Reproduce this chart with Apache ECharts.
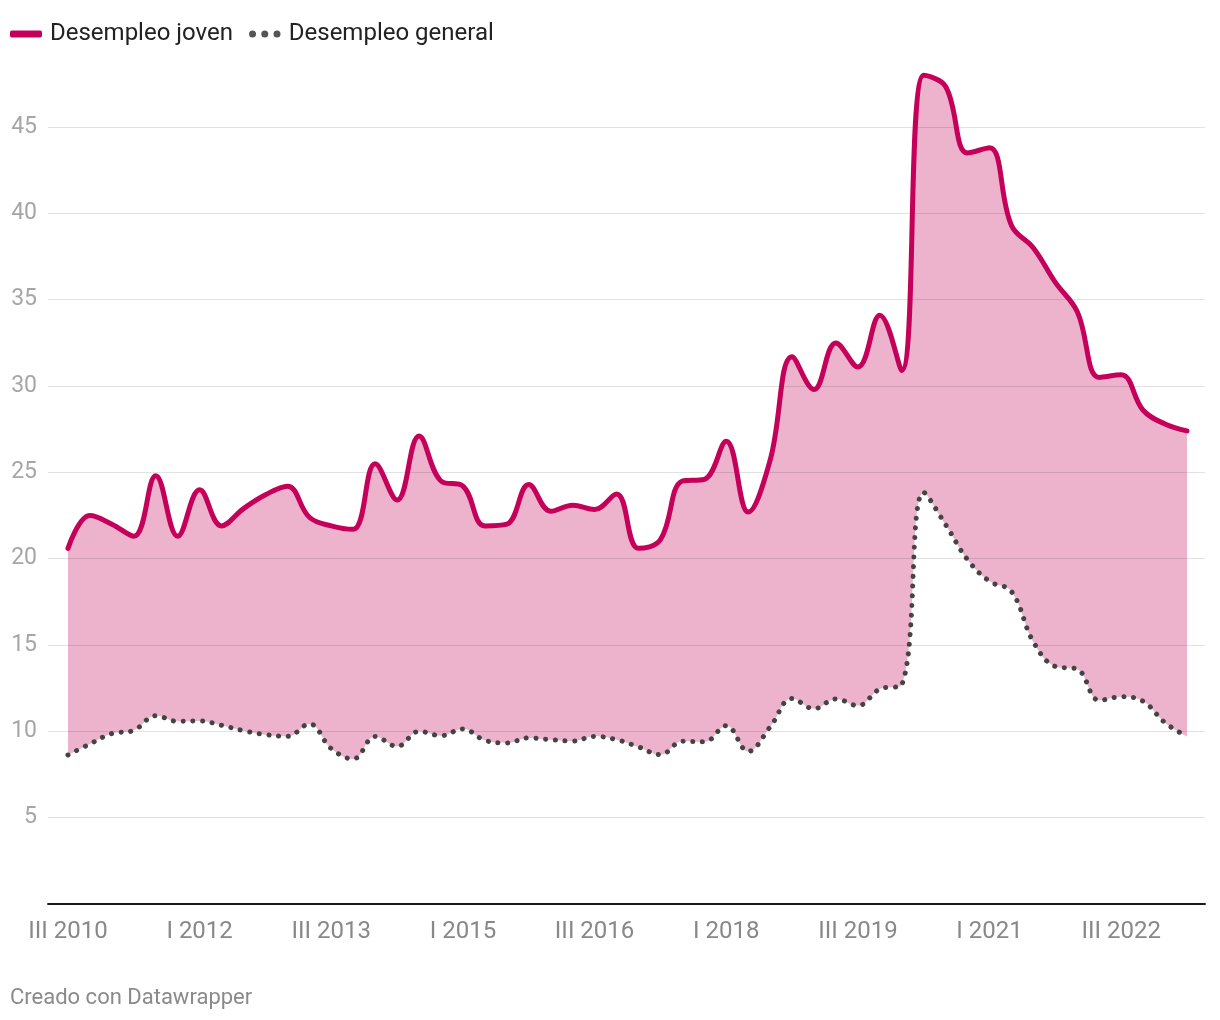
<!DOCTYPE html>
<html>
<head>
<meta charset="utf-8">
<script src="https://cdn.jsdelivr.net/npm/echarts@6/dist/echarts.min.js"></script>
<style>
  html, body { margin: 0; padding: 0; background: #ffffff; }
  #chart { width: 1220px; height: 1020px; }
</style>
</head>
<body>
<div id="chart"></div>
<script>
// Quarter categories (III 2010 .. II 2023)
const quarters = [
  'III 2010','IV 2010',
  'I 2011','II 2011','III 2011','IV 2011',
  'I 2012','II 2012','III 2012','IV 2012',
  'I 2013','II 2013','III 2013','IV 2013',
  'I 2014','II 2014','III 2014','IV 2014',
  'I 2015','II 2015','III 2015','IV 2015',
  'I 2016','II 2016','III 2016','IV 2016',
  'I 2017','II 2017','III 2017','IV 2017',
  'I 2018','II 2018','III 2018','IV 2018',
  'I 2019','II 2019','III 2019','IV 2019',
  'I 2020','II 2020','III 2020','IV 2020',
  'I 2021','II 2021','III 2021','IV 2021',
  'I 2022','II 2022','III 2022','IV 2022',
  'I 2023','II 2023'
];

// Desempleo joven (%)
const joven = [
  20.6, 22.5, 22.0, 21.3, 24.8, 21.3, 24.0, 21.9, 22.9, 23.7,
  24.2, 22.4, 21.9, 21.7, 25.5, 23.4, 27.1, 24.5, 24.2, 21.9,
  22.0, 24.3, 22.75, 23.1, 22.85, 23.75, 20.6, 21.1, 24.5, 24.6,
  26.8, 22.7, 25.7, 31.7, 29.8, 32.5, 31.1, 34.1, 30.9, 48.0,
  47.35, 43.5, 43.8, 39.3, 38.0, 36.0, 34.3, 30.5, 30.65, 28.6,
  27.8, 27.4
];

// Desempleo general (%)
const general = [
  8.63, 9.27, 9.87, 10.06, 10.9, 10.58, 10.6, 10.35, 10.04, 9.81,
  9.71, 10.43, 9.0, 8.4, 9.7, 9.13, 10.0, 9.75, 10.14, 9.48,
  9.33, 9.62, 9.52, 9.44, 9.71, 9.52, 9.1, 8.65, 9.42, 9.39,
  10.33, 8.84, 10.25, 11.9, 11.31, 11.88, 11.49, 12.45, 12.7, 23.84,
  21.97, 19.94, 18.69, 18.1, 15.18, 13.76, 13.6, 11.8, 12.0, 11.74,
  10.5, 9.7
];

// Tick labels
const xTickIndex = [0, 6, 12, 18, 24, 30, 36, 42, 48];
const yTicks = [5, 10, 15, 20, 25, 30, 35, 40, 45];

const C_JOVEN = '#c4005a';
const C_GENERAL = '#444444';
const SMOOTH = 0.4;
const FONT = 'Roboto, "Noto Sans", sans-serif';

const gapData = joven.map((v, i) => +(v - general[i]).toFixed(3));

const chart = echarts.init(document.getElementById('chart'), null, { renderer: 'canvas' });

const option = {
  animation: false,
  backgroundColor: '#ffffff',
  textStyle: { fontFamily: FONT },
  title: {
    text: 'Creado con Datawrapper',
    left: 10,
    top: 987,
    padding: 0,
    textStyle: { fontSize: 22, fontWeight: 'normal', color: '#8a8a8a', fontFamily: FONT }
  },
  legend: {
    left: 10,
    top: 22,
    padding: 0,
    itemWidth: 32,
    itemHeight: 7,
    itemGap: 16,
    selectedMode: false,
    textStyle: { fontSize: 24, color: '#222222', fontFamily: FONT, padding: [0, 0, 0, 3] },
    data: [
      { name: 'Desempleo joven', icon: 'roundRect', itemStyle: { color: C_JOVEN } },
      {
        name: 'Desempleo general',
        icon: 'path://M0,3a3,3 0 1,0 6,0a3,3 0 1,0 -6,0 M10.5,3a3,3 0 1,0 6,0a3,3 0 1,0 -6,0 M21,3a3,3 0 1,0 6,0a3,3 0 1,0 -6,0',
        itemStyle: { color: '#555555' }
      }
    ]
  },
  grid: [
    { left: 68, right: 33, top: 58, bottom: 116, containLabel: false },
    { left: 48, right: 15, top: 58, bottom: 116, containLabel: false }
  ],
  xAxis: [
    {
      type: 'category',
      gridIndex: 0,
      data: quarters,
      boundaryGap: false,
      show: false
    },
    {
      type: 'value',
      gridIndex: 1,
      min: -0.91,
      max: 51.82,
      splitLine: { show: false },
      axisTick: { show: false },
      axisLine: { show: true, onZero: false, lineStyle: { color: '#1a1a1a', width: 2 } },
      axisLabel: {
        customValues: xTickIndex,
        formatter: (v) => quarters[Math.round(v)] || '',
        fontSize: 24,
        color: '#888888',
        margin: 16,
        fontFamily: FONT
      }
    }
  ],
  yAxis: [
    { type: 'value', gridIndex: 0, min: 0, max: 49, show: false },
    {
      type: 'value',
      gridIndex: 1,
      min: 0,
      max: 49,
      interval: 5,
      splitLine: { show: false },
      axisLine: { show: false },
      axisTick: { show: false },
      axisLabel: {
        customValues: yTicks,
        fontSize: 23,
        color: '#a6a6a6',
        margin: 11,
        fontFamily: FONT
      }
    }
  ],
  series: [
    {
      name: 'base',
      type: 'line',
      xAxisIndex: 0,
      yAxisIndex: 0,
      stack: 'gap',
      data: general,
      smooth: SMOOTH,
      symbol: 'none',
      lineStyle: { opacity: 0 },
      silent: true,
      z: 1
    },
    {
      name: 'gap',
      type: 'line',
      xAxisIndex: 0,
      yAxisIndex: 0,
      stack: 'gap',
      data: gapData,
      smooth: SMOOTH,
      symbol: 'none',
      lineStyle: { opacity: 0 },
      areaStyle: { color: 'rgba(200, 20, 100, 0.32)', opacity: 1 },
      silent: true,
      z: 2
    },
    {
      name: 'grid',
      type: 'line',
      xAxisIndex: 1,
      yAxisIndex: 1,
      data: [],
      silent: true,
      z: 3,
      markLine: {
        silent: true,
        symbol: ['none', 'none'],
        label: { show: false },
        lineStyle: { color: 'rgba(0,0,0,0.115)', width: 1, type: 'solid' },
        emphasis: { disabled: true },
        data: yTicks.map(v => ({ yAxis: v }))
      }
    },
    {
      name: 'Desempleo general',
      type: 'line',
      xAxisIndex: 0,
      yAxisIndex: 0,
      data: general,
      smooth: SMOOTH,
      symbol: 'none',
      clip: false,
      lineStyle: { color: C_GENERAL, width: 5, type: [0.1, 9.6], cap: 'round' },
      itemStyle: { color: '#555555' },
      z: 4
    },
    {
      name: 'Desempleo joven',
      type: 'line',
      xAxisIndex: 0,
      yAxisIndex: 0,
      data: joven,
      smooth: SMOOTH,
      symbol: 'none',
      clip: false,
      lineStyle: { color: C_JOVEN, width: 5, cap: 'round', join: 'round' },
      itemStyle: { color: C_JOVEN },
      z: 5
    }
  ]
};

chart.setOption(option);
</script>
</body>
</html>
